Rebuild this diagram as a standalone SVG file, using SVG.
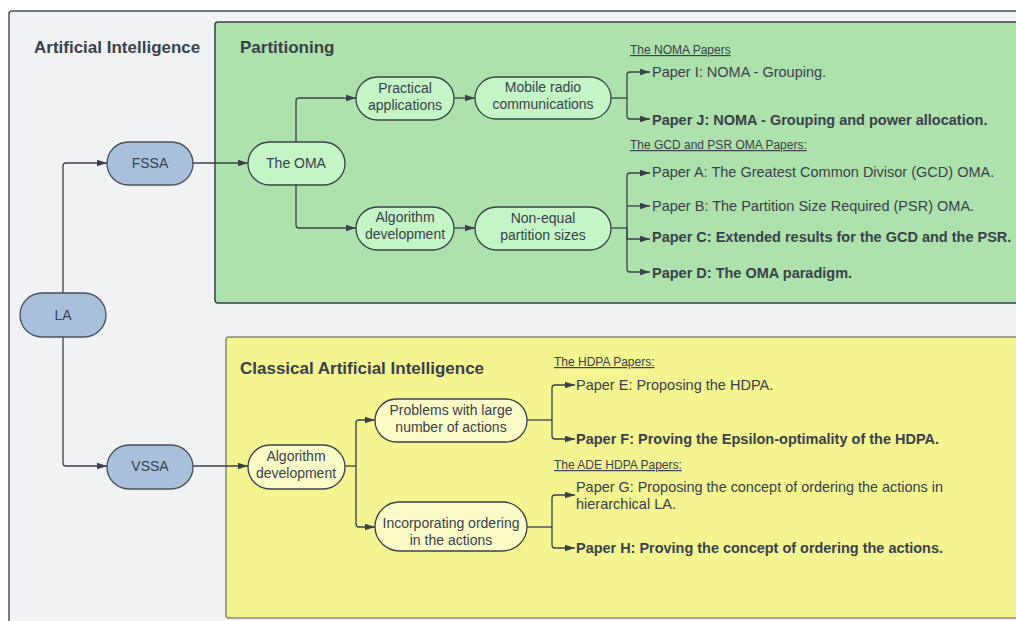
<svg xmlns="http://www.w3.org/2000/svg" width="1016" height="621" viewBox="0 0 1016 621">
  <style>
    text { font-family: "Liberation Sans", Arial, sans-serif; fill: #3a414a; }
    .title { font-size: 17px; font-weight: bold; }
    .node-label { font-size: 14px; text-anchor: middle; }
    .paper { font-size: 14.5px; }
    .paper-b { font-size: 14.5px; font-weight: bold; }
    .head { font-size: 12px; text-decoration: underline; }
    .blue { fill: #a9c0dd; stroke: #4a5058; stroke-width: 1.3; }
    .green { fill: #c3f5c6; stroke: #3a414a; stroke-width: 1.3; }
    .yellow { fill: #fcfcc9; stroke: #3a414a; stroke-width: 1.3; }
    .conn { fill: none; stroke: #3a414a; stroke-width: 1.3; }
    .arr { marker-end: url(#arrow); }
  </style>
  <defs>
    <marker id="arrow" markerUnits="userSpaceOnUse" markerWidth="10" markerHeight="8" refX="10" refY="4" orient="auto">
      <path d="M0,0.8 L10,4 L0,7.2 z" fill="#3a414a"/>
    </marker>
  </defs>

  <rect width="1016" height="621" fill="#ffffff"/>

  <!-- containers -->
  <g id="container-ai">
    <rect x="9" y="11" width="1020" height="620" rx="3" fill="#f1f2f4" stroke="#4a5058" stroke-width="1.5"/>
    <text class="title" x="34" y="53">Artificial Intelligence</text>
  </g>
  <g id="container-partitioning">
    <rect x="215" y="22" width="820" height="281" rx="3" fill="#ade2ad" stroke="#3a414a" stroke-width="1.5"/>
    <text class="title" x="240" y="53">Partitioning</text>
  </g>
  <g id="container-classical">
    <rect x="226" y="337" width="810" height="281" rx="3" fill="#f4f491" stroke="#85877c" stroke-width="1.5"/>
    <text class="title" x="240" y="374">Classical Artificial Intelligence</text>
  </g>

  <!-- connectors -->
  <g id="connectors">
    <path class="conn arr" d="M63,293 V166 Q63,163 66,163 H107"/>
    <path class="conn arr" d="M63,337 V463 Q63,466 66,466 H107"/>
    <path class="conn arr" d="M193,163 H248"/>
    <path class="conn arr" d="M296,142 V101 Q296,98 299,98 H356"/>
    <path class="conn arr" d="M296,185 V225 Q296,228 299,228 H356"/>
    <path class="conn arr" d="M454,98 H475"/>
    <path class="conn arr" d="M454,228 H475"/>

    <path class="conn" d="M611,98 H627"/>
    <path class="conn arr" d="M627,98 V75 Q627,72 630,72 H650"/>
    <path class="conn arr" d="M627,98 V116 Q627,119 630,119 H650"/>

    <path class="conn" d="M611,228 H627"/>
    <path class="conn arr" d="M627,228 V176 Q627,173 630,173 H650"/>
    <path class="conn arr" d="M627,206 H650"/>
    <path class="conn arr" d="M627,228 V239 H650"/>
    <path class="conn arr" d="M627,228 V269 Q627,272 630,272 H650"/>

    <path class="conn arr" d="M193,466 H248"/>
    <path class="conn" d="M345,466 H356"/>
    <path class="conn arr" d="M356,466 V423 Q356,420 359,420 H375"/>
    <path class="conn arr" d="M356,466 V524 Q356,527 359,527 H375"/>

    <path class="conn" d="M527,420 H552"/>
    <path class="conn arr" d="M552,420 V388 Q552,385 555,385 H575"/>
    <path class="conn arr" d="M552,420 V436 Q552,439 555,439 H575"/>

    <path class="conn" d="M527,527 H552"/>
    <path class="conn arr" d="M552,527 V498 Q552,495 555,495 H575"/>
    <path class="conn arr" d="M552,527 V545 Q552,548 555,548 H575"/>
  </g>

  <!-- nodes -->
  <g id="node-la">
    <rect class="blue" x="20" y="293" width="86" height="44" rx="22"/>
    <text class="node-label" x="63" y="320">LA</text>
  </g>
  <g id="node-fssa">
    <rect class="blue" x="107" y="142" width="86" height="43" rx="21.5"/>
    <text class="node-label" x="150" y="168">FSSA</text>
  </g>
  <g id="node-vssa">
    <rect class="blue" x="107" y="445" width="86" height="44" rx="22"/>
    <text class="node-label" x="150" y="471">VSSA</text>
  </g>
  <g id="node-oma">
    <rect class="green" x="248" y="142" width="97" height="43" rx="21.5"/>
    <text class="node-label" x="296" y="168">The OMA</text>
  </g>
  <g id="node-practical">
    <rect class="green" x="356" y="77" width="98" height="43" rx="21.5"/>
    <text class="node-label" x="405" y="93">Practical</text>
    <text class="node-label" x="405" y="110">applications</text>
  </g>
  <g id="node-mobile">
    <rect class="green" x="475" y="77" width="136" height="42" rx="21"/>
    <text class="node-label" x="543" y="92">Mobile radio</text>
    <text class="node-label" x="543" y="109">communications</text>
  </g>
  <g id="node-alg-green">
    <rect class="green" x="356" y="207" width="98" height="43" rx="21.5"/>
    <text class="node-label" x="405" y="222">Algorithm</text>
    <text class="node-label" x="405" y="239">development</text>
  </g>
  <g id="node-nonequal">
    <rect class="green" x="475" y="207" width="136" height="43" rx="21.5"/>
    <text class="node-label" x="543" y="223">Non-equal</text>
    <text class="node-label" x="543" y="240">partition sizes</text>
  </g>
  <g id="node-alg-yellow">
    <rect class="yellow" x="248" y="445" width="97" height="44" rx="22"/>
    <text class="node-label" x="296" y="461">Algorithm</text>
    <text class="node-label" x="296" y="478">development</text>
  </g>
  <g id="node-problems">
    <rect class="yellow" x="375" y="399" width="152" height="43" rx="21.5"/>
    <text class="node-label" x="451" y="415">Problems with large</text>
    <text class="node-label" x="451" y="432">number of actions</text>
  </g>
  <g id="node-ordering">
    <rect class="yellow" x="375" y="502" width="152" height="49" rx="24.5"/>
    <text class="node-label" x="451" y="528">Incorporating ordering</text>
    <text class="node-label" x="451" y="545">in the actions</text>
  </g>

  <!-- paper lists -->
  <g id="noma-papers">
    <text class="head" x="630" y="54">The NOMA Papers</text>
    <text class="paper" x="652" y="77">Paper I: NOMA - Grouping.</text>
    <text class="paper-b" x="652" y="125">Paper J: NOMA - Grouping and power allocation.</text>
  </g>
  <g id="oma-papers">
    <text class="head" x="630" y="149">The GCD and PSR OMA Papers:</text>
    <text class="paper" x="652" y="177">Paper A: The Greatest Common Divisor (GCD) OMA.</text>
    <text class="paper" x="652" y="211">Paper B: The Partition Size Required (PSR) OMA.</text>
    <text class="paper-b" x="652" y="242">Paper C: Extended results for the GCD and the PSR.</text>
    <text class="paper-b" x="652" y="278">Paper D: The OMA paradigm.</text>
  </g>
  <g id="hdpa-papers">
    <text class="head" x="554" y="366">The HDPA Papers:</text>
    <text class="paper" x="576" y="390">Paper E: Proposing the HDPA.</text>
    <text class="paper-b" x="576" y="444">Paper F: Proving the Epsilon-optimality of the HDPA.</text>
  </g>
  <g id="ade-hdpa-papers">
    <text class="head" x="554" y="469">The ADE HDPA Papers:</text>
    <text class="paper" x="576" y="492" textLength="367" lengthAdjust="spacingAndGlyphs">Paper G: Proposing the concept of ordering the actions in</text>
    <text class="paper" x="576" y="509">hierarchical LA.</text>
    <text class="paper-b" x="576" y="553" textLength="367" lengthAdjust="spacingAndGlyphs">Paper H: Proving the concept of ordering the actions.</text>
  </g>
</svg>
